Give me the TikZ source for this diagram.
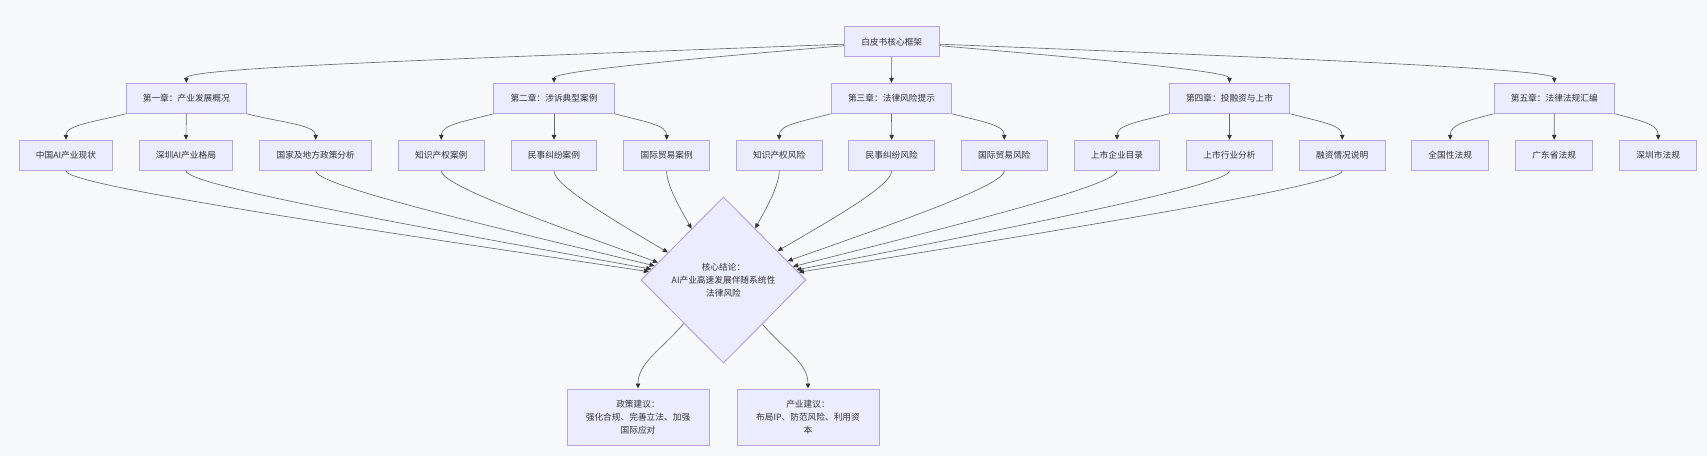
\documentclass[tikz,border=0pt]{standalone}
\usepackage{fontspec}
\setmainfont{Noto Sans CJK SC}
\usetikzlibrary{shapes.geometric,arrows.meta,calc}
\definecolor{bg}{HTML}{F8F9FB}
\definecolor{nodefill}{HTML}{ECECFF}
\definecolor{nodeline}{HTML}{B7A2E9}
\definecolor{edgecol}{HTML}{6A6A6A}
\definecolor{tipcol}{HTML}{333333}
\definecolor{txt}{HTML}{333333}
\newcommand\leafedge[2]{%
  \path (#1.south) ++(0,14) coordinate (#1b);
  \draw[edge] (#1.south) .. controls (#1b) and ($(#2)!0.55!(#1b)$) .. (#2);}
\begin{document}
\begin{tikzpicture}[x=1pt,y=-1pt,
  box/.style={draw=nodeline,fill=nodefill,line width=1pt,minimum height=30pt,inner sep=0pt,
    font=\fontsize{8.7}{13}\selectfont,text=txt,align=center},
  edge/.style={draw=edgecol,line width=0.65pt,-{Triangle[length=5pt,width=4.5pt,color=tipcol]}}]
\fill[bg] (0,0) rectangle (1707,456);
\useasboundingbox (0,0) rectangle (1707,456);
% root
\node[box,minimum width=94.7pt] (root) at (891.7,41.7) {白皮书核心框架};
% chapters
\node[box,minimum width=120.5pt] (ch1) at (186.3,98.3) {第一章：产业发展概况};
\node[box,minimum width=120.5pt] (ch2) at (554,98.3) {第二章：涉诉典型案例};
\node[box,minimum width=120.5pt] (ch3) at (891.5,98.3) {第三章：法律风险提示};
\node[box,minimum width=120.5pt] (ch4) at (1229.5,98.3) {第四章：投融资与上市};
\node[box,minimum width=120.5pt] (ch5) at (1554.3,98.3) {第五章：法律法规汇编};
% leaves
\node[box,minimum width=93.3pt] (l1) at (66,155.3) {中国AI产业现状};
\node[box,minimum width=93.3pt] (l2) at (186,155.3) {深圳AI产业格局};
\node[box,minimum width=112pt] (l3) at (315.7,155.3) {国家及地方政策分析};
\node[box,minimum width=86pt] (l4) at (441.3,155.3) {知识产权案例};
\node[box,minimum width=85.5pt] (l5) at (554,155.3) {民事纠纷案例};
\node[box,minimum width=85.5pt] (l6) at (666.7,155.3) {国际贸易案例};
\node[box,minimum width=85.7pt] (l7) at (779.2,155.3) {知识产权风险};
\node[box,minimum width=86pt] (l8) at (891.7,155.3) {民事纠纷风险};
\node[box,minimum width=86pt] (l9) at (1004.3,155.3) {国际贸易风险};
\node[box,minimum width=85.5pt] (l10) at (1117,155.3) {上市企业目录};
\node[box,minimum width=85.6pt] (l11) at (1229.5,155.3) {上市行业分析};
\node[box,minimum width=85.7pt] (l12) at (1342.2,155.3) {融资情况说明};
\node[box,minimum width=77pt] (l13) at (1450.2,155.3) {全国性法规};
\node[box,minimum width=77pt] (l14) at (1554.2,155.3) {广东省法规};
\node[box,minimum width=77pt] (l15) at (1658.2,155.3) {深圳市法规};
% core
\node[diamond,draw=nodeline,fill=nodefill,line width=1pt,minimum width=165pt,minimum height=166pt,
  inner sep=0pt,align=center,font=\fontsize{8.7}{13.3}\selectfont,text=txt] (core) at (723.5,280)
  {核心结论：\\AI产业高速发展伴随系统性\\法律风险};
% bottom
\node[box,minimum width=142pt,minimum height=56pt] (pol) at (638,417) {政策建议：\\强化合规、完善立法、加强\\国际应对};
\node[box,minimum width=142pt,minimum height=56pt] (ind) at (808,417) {产业建议：\\布局IP、防范风险、利用资\\本};
% root -> chapters
\draw[edge] ($(root.west)+(0,2.5)$) .. controls (420,60) and (186.3,68) .. (ch1.north);
\draw[edge] ($(root.west)+(0,4)$) .. controls (700,58) and (554,71) .. (ch2.north);
\draw[edge] (root.south) -- (ch3.north);
\draw[edge] ($(root.east)+(0,4)$) .. controls (1083,58) and (1229.5,71) .. (ch4.north);
\draw[edge] ($(root.east)+(0,2.5)$) .. controls (1300,58.5) and (1554.3,69) .. (ch5.north);
% chapters -> leaves
\foreach \c/\a/\b/\m in {ch1/l1/l3/l2,ch2/l4/l6/l5,ch3/l7/l9/l8,ch4/l10/l12/l11,ch5/l13/l15/l14}{
  \draw[edge] (\c.south west) .. controls +(-30,8) and +(0,-15) .. (\a.north);
  \draw[edge] (\c.south) -- (\m.north);
  \draw[edge] (\c.south east) .. controls +(30,8) and +(0,-15) .. (\b.north);
}
% entry points on core
\coordinate (e1) at ($(core.west)!0.10!(core.north)$);
\coordinate (e2) at ($(core.west)!0.13!(core.north)$);
\coordinate (e3) at ($(core.west)!0.17!(core.north)$);
\coordinate (e4) at ($(core.west)!0.21!(core.north)$);
\coordinate (e5) at ($(core.west)!0.33!(core.north)$);
\coordinate (e6) at ($(core.west)!0.615!(core.north)$);
\coordinate (e7) at ($(core.east)!0.618!(core.north)$);
\coordinate (e8) at ($(core.east)!0.348!(core.north)$);
\coordinate (e9) at ($(core.east)!0.227!(core.north)$);
\coordinate (e10) at ($(core.east)!0.161!(core.north)$);
\coordinate (e11) at ($(core.east)!0.121!(core.north)$);
\coordinate (e12) at ($(core.east)!0.093!(core.north)$);
\leafedge{l1}{e1}
\leafedge{l2}{e2}
\leafedge{l3}{e3}
\leafedge{l4}{e4}
\leafedge{l5}{e5}
\leafedge{l6}{e6}
\leafedge{l7}{e7}
\leafedge{l8}{e8}
\leafedge{l9}{e9}
\leafedge{l10}{e10}
\leafedge{l11}{e11}
\leafedge{l12}{e12}
% core -> bottom
\draw[edge] ($(core.south)!0.479!(core.west)$) .. controls +(-22,26) and +(0,-26) .. (pol.north);
\draw[edge] ($(core.south)!0.47!(core.east)$) .. controls +(22,26) and +(0,-26) .. (ind.north);
\end{tikzpicture}
\end{document}
